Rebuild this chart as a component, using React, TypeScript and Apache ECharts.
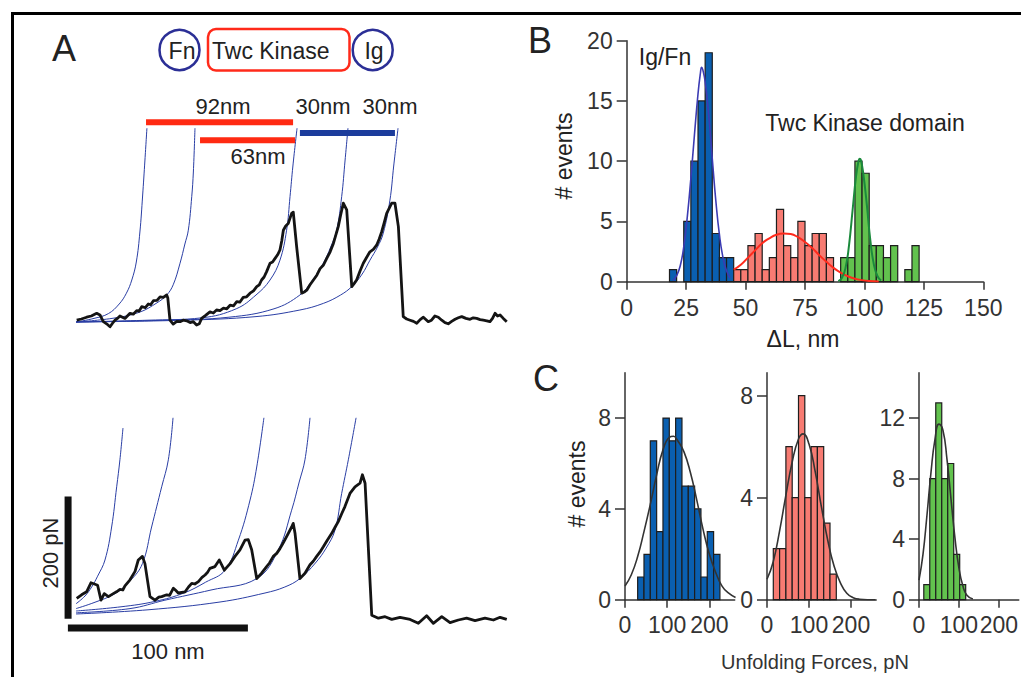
import React, { useEffect, useRef } from 'react';
import * as echarts from 'echarts';

const FONT = '"Liberation Sans", Arial, Helvetica, sans-serif';

// ---------- Panel A: force-extension traces [extension nm, force pN] ----------
const topTrace = [
  [0.4,3],[3,5],[5.9,8],[8.5,10],[11.5,14.5],[13.3,11.7],[15.2,0.5],[17,-3],[18.9,-8],[20.3,-2],[21.7,3],[23,6],[24.4,10],[27.2,6],[30,14.5],[31.8,13],[33.7,19],[35,18],[36.5,25.5],[38.5,24],[40.2,30],[41.5,29],[43,35.5],[45,36],[46.7,42],[48.5,41],[50.4,45],[51,40],[52.2,3],[54,-3.5],[56,1],[57.8,0.5],[59.5,3],[61.5,2],[63.4,-1],[65.2,0.5],[67,-5],[68.5,-3],[69.8,6],[72,11],[74.4,17],[76.3,15],[78.1,20],[80,19],[81.9,23],[83.8,22],[85.6,28],[87.5,27],[89.3,34],[91,33],[92.9,41],[94.8,42],[96.7,48],[98.6,52],[100.4,59],[101.8,62],[103.1,70],[104.5,75],[105.9,84],[107.8,98],[109.2,100],[110.6,106],[112,112],[113.3,120],[114.3,135],[115.2,153],[116.5,160],[117.9,164],[119.8,181],[120.7,183],[122.6,125],[125.4,48],[126.8,50],[128.2,53],[130,62],[131.9,70],[133.8,78],[135.6,89],[137.5,95],[139.3,106],[141.2,117],[143,131],[145.7,159],[147,178],[148.5,198],[150.4,187],[153.2,59],[154.5,64],[155.9,70],[157.8,85],[159.6,98],[161.5,108],[163.3,117],[165.2,121],[167,128],[168.4,138],[169.8,150],[171.2,165],[172.6,181],[175.4,198],[177.2,198],[179.1,159],[181.8,9],[183.7,5],[185.6,3],[187.5,1],[189.3,-2],[191.2,4],[193,8],[195.7,0.5],[197.5,3],[199.4,10],[201.3,8],[203.2,3],[205,-1],[206.8,-3],[208.7,1],[210.6,4.5],[212.4,7],[214.3,9],[216.6,6],[218.9,4.5],[220.7,7],[222.6,6],[224.5,4],[226.3,3],[228.2,2],[230,0.5],[231.4,6],[232.8,14.5],[234.2,10],[235.6,11.7],[237.4,6],[239.3,0.5]
];
const topWlc1 = [[0,0],[10,6],[18,14],[24,30],[28,48],[31,70],[33.5,100],[35.5,150],[37,210],[38.3,270],[39.4,323]];
const topWlc2 = [[0,0],[20,6],[35,16],[45,32],[50.4,45],[54,62],[57.8,98],[60.5,130],[62.4,153],[64.3,209],[65.2,250],[66.1,323]];
const topWlc3 = [[0,0],[40,3],[70,7],[89,22],[100,45],[107.8,70],[113.3,103],[117,153],[118.9,209],[120.5,260],[122.8,323]];
const topWlc4 = [[0,0],[50,3],[85,8],[110,22],[124.4,45],[131,68],[137.4,98],[141.5,125],[144.8,153],[147.6,209],[149.5,270],[151.1,323]];
const topWlc5 = [[0,0],[60,3],[100,9],[124.4,20],[137.4,31],[147,45],[153.2,59],[159,80],[163.3,103],[167.5,125],[170.7,148],[174.4,203],[176.5,260],[178.9,323]];
const bar92nm = [[38.9,333],[120.6,333]];
const bar63nm = [[68.9,303],[121.7,303]];
const bar30nm = [[124.4,315],[177.2,315]];

const bottomTrace = [
  [0.4,31],[3.1,37],[5.9,42],[8.3,57],[10.2,55],[12,53],[13.9,28],[15.7,39],[18,34],[20.7,39],[22.5,42],[24.4,46],[26,45],[27.2,52],[30,62],[32.8,76],[34.6,95],[36.9,101],[38.3,89],[41.1,34],[43.9,28],[46,33],[47.6,34],[50.4,37],[52,36],[54.1,48],[55.5,44],[56.8,40],[60.6,42],[62.5,50],[64.3,56],[66,55],[68,59],[70,66],[71.7,70],[73,74],[74.4,81],[77.2,84],[79.6,95],[82.4,78],[85.6,89],[88.3,101],[91.1,112],[93.9,128],[95.7,129],[97.6,112],[100.4,64],[103.1,73],[105.9,84],[107.5,90],[109.6,101],[111.5,106],[113.3,114],[115,123],[117,134],[119.8,150],[120.7,156],[121.7,139],[124.4,64],[127.2,73],[130,87],[131.8,93],[133.7,101],[135.5,108],[137.4,117],[139.6,128],[142,139],[144,150],[145.7,159],[147.6,172],[149.4,184],[152.2,206],[155,217],[157.8,223],[159.1,237],[160.6,223],[164.3,3],[168,-2],[171.7,0.5],[175.4,-4],[180,-0.5],[185.6,-4],[190.2,-10.5],[194.8,2],[198.5,-10.5],[203.2,0.5],[207.8,-9.5],[212.4,-5],[217,-2],[221.7,-6],[227.2,-2],[231.9,-5],[235.6,-0.5],[239.3,-4]
];
const bottomWlc1 = [[0,22],[5,35],[8.7,50],[12,68],[16.1,95],[19.8,150],[22.6,217],[24.4,262],[26.1,315]];
const bottomWlc2 = [[0,14],[10,24],[21.7,39],[30,60],[36.9,89],[42,150],[47.6,217],[51.3,262],[53.9,332]];
const bottomWlc3 = [[0,10],[25,17],[43.9,26],[60,40],[72,58],[82.8,78],[90.2,128],[96.7,195],[100.4,250],[104.4,332]];
const bottomWlc4 = [[0,7],[30,14],[49.4,28],[75,45],[100.4,64],[112.4,112],[119.8,178],[124,225],[127.2,262],[130,332]];
const bottomWlc5 = [[0,5],[40,12],[80,25],[105,40],[116,50],[124.4,64],[133,90],[139,115],[143.9,145],[147.6,206],[151.3,262],[155.6,332]];
const forceScaleBar = [[-4.4,-3],[-4.4,201]];   // 200 pN
const lengthScaleBar = [[-4.5,-18.5],[95.5,-18.5]]; // 100 nm

// ---------- Panel B: ΔL histogram (bin start nm, counts) ----------
const deltaLBinWidth = 3;
const igFnBins = [18,21,24,27,30,33,36,39,42];
const igFnCounts = [1,0,5,10,15,19,4,2,2];
const kinaseABins = [45,48,51,54,57,60,63,66,69,72,75,78,81,84];
const kinaseACounts = [1,1,3,4,1,2,6,3,2,5,3,4,4,2];
const kinaseBBins = [87,90,93,96,99,102,105,108,111,114,117,120];
const kinaseBCounts = [0,2,2,10,9,3,3,2,3,0,1,3];
const igFnFit = [[19.5,0.1],[21,0.5],[22.5,1.3],[24,2.9],[25.5,5.4],[27,8.6],[28.5,12.2],[30,15.6],[31,17.3],[31.5,17.8],[32,17.6],[33,16.6],[34.5,13.8],[36,10.2],[37.5,6.7],[39,3.9],[40.5,2.0],[42,0.9],[43.5,0.3]];
const kinaseAFit = [[45,1.0],[48,1.4],[51,2.0],[54,2.6],[57,3.2],[60,3.6],[63,3.9],[66,4.0],[69,3.95],[72,3.7],[75,3.3],[78,2.8],[81,2.2],[84,1.65],[87,1.15],[90,0.75],[93,0.45],[96,0.25],[99,0.13],[102,0.06],[106,0.02]];
const kinaseBFit = [[89,0.05],[90.5,0.3],[92,1.1],[93.5,3.0],[95,5.9],[96.5,8.8],[97.5,10.0],[98,10.2],[98.5,10.1],[99.5,9.0],[101,6.4],[102.5,3.4],[104,1.4],[105.5,0.45],[107,0.1]];
const deltaLTicks = [0,25,50,75,100,125,150];
const deltaLCountTicks = [0,5,10,15,20];

// ---------- Panel C: unfolding force histograms (bin start pN, counts) ----------
const forceBinWidth = 15;
const igForceBins = [30,45,60,75,90,105,120,135,150,165,180,195,210];
const igForceCounts = [1,2,7,3,8,7,8,5,5,4,1,3,2];
const kinaseAForceBins = [15,30,45,60,75,90,105,120,135,150];
const kinaseAForceCounts = [2,2,6,4,8,4,6,6,3,1];
const kinaseBForceBins = [12,27,42,57,72,87,102];
const kinaseBForceCounts = [1,8,13,8,9,3,1];
const igForceFit = [[0,0.6],[15,1.1],[30,1.9],[45,3.0],[60,4.2],[75,5.5],[90,6.6],[105,7.15],[115,7.2],[125,7.0],[140,6.5],[155,5.6],[170,4.4],[185,3.1],[200,2.0],[215,1.2],[230,0.6],[245,0.3],[262,0.1]];
const kinaseAForceFit = [[0,0.8],[15,1.5],[30,2.7],[45,4.1],[60,5.4],[75,6.3],[86,6.5],[100,6.1],[115,5.0],[130,3.6],[145,2.3],[160,1.3],[175,0.65],[190,0.25],[205,0.08],[220,0.02],[258,0]];
const kinaseBForceFit = [[0,1.3],[10,3.0],[20,5.6],[30,8.4],[40,10.6],[50,11.6],[60,11.2],[70,9.3],[80,6.7],[90,4.1],[100,2.1],[110,0.9],[120,0.3],[135,0.05]];
const forceTicks = [0,100,200];
const countTicksC12 = [0,4,8];
const countTicksC3 = [0,4,8,12];

const AXIS_COLOR = '#333';
const TICK_FONT = 23;

function histSeries(idx: number, bins: number[], counts: number[], width: number, fill: string) {
  return {
    type: 'custom',
    xAxisIndex: idx,
    yAxisIndex: idx,
    data: bins.map((b, i) => [b, b + width, counts[i]]),
    encode: { x: [0, 1], y: 2 },
    silent: true,
    z: 2,
    renderItem: (_params: any, api: any) => {
      const h = api.value(2);
      if (!h) return { type: 'group', children: [] };
      const p0 = api.coord([api.value(0), 0]);
      const p1 = api.coord([api.value(1), h]);
      return {
        type: 'rect',
        shape: { x: p0[0], y: p1[1], width: p1[0] - p0[0], height: p0[1] - p1[1] },
        style: { fill, stroke: '#1e1e1e', lineWidth: 1.2 },
      };
    },
  };
}

function lineSeries(idx: number, data: number[][], color: string, width: number, smooth: number | boolean = false, z = 3) {
  return {
    type: 'line',
    xAxisIndex: idx,
    yAxisIndex: idx,
    data,
    symbol: 'none',
    showSymbol: false,
    smooth,
    lineStyle: { color, width, cap: 'butt', join: 'round' },
    silent: true,
    z,
  };
}

function valueAxisX(idx: number, min: number, max: number, ticks: number[], margin = 14) {
  return {
    type: 'value', gridIndex: idx, min, max,
    axisLine: { show: true, onZero: false, lineStyle: { color: AXIS_COLOR, width: 1.5 } },
    axisTick: { show: true, length: 8, customValues: ticks, lineStyle: { color: AXIS_COLOR, width: 1.5 } },
    axisLabel: { show: true, customValues: ticks, fontSize: TICK_FONT, color: AXIS_COLOR, fontFamily: FONT, margin, hideOverlap: false },
    splitLine: { show: false },
  };
}
function valueAxisY(idx: number, min: number, max: number, ticks: number[]) {
  return {
    type: 'value', gridIndex: idx, min, max,
    axisLine: { show: true, onZero: false, lineStyle: { color: AXIS_COLOR, width: 1.5 } },
    axisTick: { show: true, length: 10, customValues: ticks, lineStyle: { color: AXIS_COLOR, width: 1.5 } },
    axisLabel: { show: true, customValues: ticks, fontSize: TICK_FONT, color: AXIS_COLOR, fontFamily: FONT, margin: 14, hideOverlap: false },
    splitLine: { show: false },
  };
}

function txt(text: string, x: number, y: number, size: number, align = 'center', rotation = 0, fill = '#222') {
  return {
    type: 'text', x, y, rotation, silent: true, z: 10,
    style: { text, x: 0, y: 0, fill, font: `${size}px ${FONT}`, textAlign: align, textVerticalAlign: 'middle' },
  };
}

const WLC = '#2a3ea4';
const TRACE = '#141414';

export default function App() {
  const ref = useRef<HTMLDivElement>(null);
  useEffect(() => {
    if (!ref.current) return;
    const chart = echarts.init(ref.current, null, { renderer: 'svg' });
    const hiddenX = (idx: number) => ({ type: 'value', gridIndex: idx, min: -10, max: 245, show: false });
    const hiddenY = (idx: number) => ({ type: 'value', gridIndex: idx, min: -30, max: 370, show: false });
    chart.setOption({
      animation: false,
      backgroundColor: '#ffffff',
      textStyle: { fontFamily: FONT },
      grid: [
        { left: 58, top: 100, width: 459, height: 240 },
        { left: 58, top: 395, width: 459, height: 240 },
        { left: 626.7, top: 40.7, width: 356.6, height: 241 },
        { left: 625, top: 372.7, width: 109.7, height: 227 },
        { left: 767, top: 372.7, width: 109.2, height: 227 },
        { left: 919, top: 372.7, width: 101.25, height: 227 },
      ],
      xAxis: [
        hiddenX(0), hiddenX(1),
        valueAxisX(2, 0, 150, deltaLTicks, 15),
        valueAxisX(3, 0, 260, forceTicks),
        valueAxisX(4, 0, 260, forceTicks),
        valueAxisX(5, 0, 250, forceTicks),
      ],
      yAxis: [
        hiddenY(0), hiddenY(1),
        valueAxisY(2, 0, 20, deltaLCountTicks),
        valueAxisY(3, 0, 10, countTicksC12),
        valueAxisY(4, 0, 8.9, countTicksC12),
        valueAxisY(5, 0, 15, countTicksC3),
      ],
      series: [
        // Panel A top
        lineSeries(0, topWlc1, WLC, 1, 0.4),
        lineSeries(0, topWlc2, WLC, 1, 0.4),
        lineSeries(0, topWlc3, WLC, 1, 0.4),
        lineSeries(0, topWlc4, WLC, 1, 0.4),
        lineSeries(0, topWlc5, WLC, 1, 0.4),
        lineSeries(0, topTrace, TRACE, 2.8, false, 4),
        lineSeries(0, bar92nm, '#ff2a12', 6),
        lineSeries(0, bar63nm, '#ff2a12', 6),
        lineSeries(0, bar30nm, '#1c3c9c', 6),
        // Panel A bottom
        lineSeries(1, bottomWlc1, WLC, 1, 0.4),
        lineSeries(1, bottomWlc2, WLC, 1, 0.4),
        lineSeries(1, bottomWlc3, WLC, 1, 0.4),
        lineSeries(1, bottomWlc4, WLC, 1, 0.4),
        lineSeries(1, bottomWlc5, WLC, 1, 0.4),
        lineSeries(1, bottomTrace, TRACE, 2.8, false, 4),
        lineSeries(1, forceScaleBar, '#111', 7),
        lineSeries(1, lengthScaleBar, '#111', 7),
        // Panel B
        histSeries(2, igFnBins, igFnCounts, deltaLBinWidth, '#0a5fb0'),
        histSeries(2, kinaseABins, kinaseACounts, deltaLBinWidth, '#f77b72'),
        histSeries(2, kinaseBBins, kinaseBCounts, deltaLBinWidth, '#62c24e'),
        lineSeries(2, igFnFit, '#3b3bb3', 1.6, true),
        lineSeries(2, kinaseAFit, '#ff2a1c', 2, true),
        lineSeries(2, kinaseBFit, '#1b8a3c', 2, true),
        // Panel C
        histSeries(3, igForceBins, igForceCounts, forceBinWidth, '#0a5fb0'),
        histSeries(4, kinaseAForceBins, kinaseAForceCounts, forceBinWidth, '#f77b72'),
        histSeries(5, kinaseBForceBins, kinaseBForceCounts, forceBinWidth, '#62c24e'),
        lineSeries(3, igForceFit, '#333', 1.6, true),
        lineSeries(4, kinaseAForceFit, '#333', 1.6, true),
        lineSeries(5, kinaseBForceFit, '#333', 1.6, true),
      ],
      graphic: [
        // frame
        { type: 'line', silent: true, shape: { x1: 11, y1: 13.5, x2: 1021, y2: 13.5 }, style: { stroke: '#000', lineWidth: 3 } },
        { type: 'line', silent: true, shape: { x1: 12.5, y1: 12, x2: 12.5, y2: 677 }, style: { stroke: '#000', lineWidth: 3 } },
        // panel letters
        txt('A', 52, 48, 36, 'left'),
        txt('B', 528, 40, 36, 'left'),
        txt('C', 533, 378, 36, 'left'),
        // domain diagram
        { type: 'circle', silent: true, shape: { cx: 179.5, cy: 50, r: 20 }, style: { fill: 'none', stroke: '#2b2f96', lineWidth: 2.5 } },
        { type: 'rect', silent: true, shape: { x: 208, y: 29, width: 141.5, height: 41.5, r: 8 }, style: { fill: 'none', stroke: '#ff2a1a', lineWidth: 2.5 } },
        { type: 'circle', silent: true, shape: { cx: 372.7, cy: 50, r: 20 }, style: { fill: 'none', stroke: '#2b2f96', lineWidth: 2.5 } },
        txt('Fn', 182, 51, 23),
        txt('Twc Kinase', 212, 51, 23, 'left'),
        txt('Ig', 374, 51, 23),
        // step labels
        txt('92nm', 223, 106, 22),
        txt('63nm', 258, 156, 22),
        txt('30nm', 323, 106, 22),
        txt('30nm', 390, 106, 22),
        // scale bar labels
        txt('200 pN', 50, 553, 22, 'center', Math.PI / 2),
        txt('100 nm', 168, 651, 22),
        // panel B texts
        txt('# events', 564, 156, 23, 'center', Math.PI / 2),
        txt('Ig/Fn', 665, 57, 23),
        txt('Twc Kinase domain', 865, 123, 23),
        txt('ΔL, nm', 803, 339, 23),
        // panel C texts
        txt('# events', 577, 484, 23, 'center', Math.PI / 2),
        txt('Unfolding Forces, pN', 815, 662, 20, 'center', 0, '#333'),
      ],
    });
    return () => chart.dispose();
  }, []);
  return (
    <div
      ref={ref}
      style={{ position: 'fixed', left: 0, top: 0, width: 1021, height: 677, background: '#fff' }}
    />
  );
}
